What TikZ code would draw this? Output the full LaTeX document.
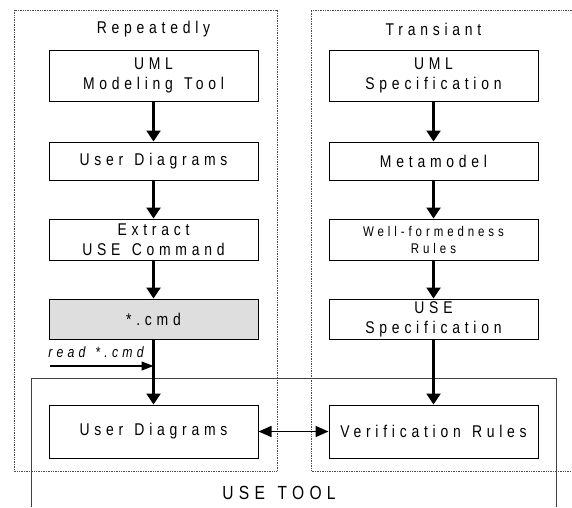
\documentclass[tikz,border=0pt]{standalone}
\usepackage{fontspec}
\usetikzlibrary{arrows.meta}
\newfontfamily\boxfont[FakeStretch=0.82,LetterSpace=28,WordSpace=1.3]{Liberation Sans}

\begin{document}
\begin{tikzpicture}[x=1pt,y=-1pt,
  stage/.style={draw,line width=1pt,minimum width=209pt,inner sep=0pt,align=center,
    font=\boxfont\fontsize{17}{20}\selectfont},
  caption/.style={font=\boxfont\fontsize{17}{20}\selectfont},
  flow/.style={line width=2.4pt,-{Triangle[length=11pt,width=14pt]}},
  both/.style={line width=1.6pt,{Triangle[length=13pt,width=11pt]}-{Triangle[length=13pt,width=11pt]}},
  feed/.style={line width=1.1pt,-{Triangle[length=12pt,width=9pt]}},
  zone/.style={draw=black!70,densely dotted,line width=0.7pt}]
\useasboundingbox (0,0) rectangle (572,507);

% the two phases and the tool
\draw[zone] (14,10) rectangle (277,471);
\draw[zone] (572,10) -- (311,10) -- (311,471) -- (572,471);
\draw[black!75,line width=0.9pt] (31,507) -- (31,378) -- (556,378) -- (556,507);

\node[caption] (rep) at (153.5,29) {Repeatedly};
\node[caption] (tra) at (433.5,29) {Transiant};
\node[caption,font=\boxfont\fontsize{19}{20}\selectfont] (tool) at (279,493) {USE TOOL};

% left column
\node[stage,minimum height=51pt] (uml) at (153.5,75.5) {UML\\Modeling Tool};
\node[stage,minimum height=38pt] (ud) at (153.5,161) {User Diagrams};
\node[stage,minimum height=41pt] (ext) at (153.5,239.5) {Extract\\USE Command};
\node[stage,minimum height=40pt,fill=black!13] (cmd) at (153.5,319) {*.cmd};
\node[stage,minimum height=53pt] (ud2) at (153.5,431.5) {User Diagrams};

% right column
\node[stage,minimum height=51pt] (spec) at (433.5,75.5) {UML\\Specification};
\node[stage,minimum height=38pt] (meta) at (433.5,161) {Metamodel};
\node[stage,minimum height=41pt,font=\boxfont\fontsize{14}{17}\selectfont] (wfr) at (433.5,239.5) {Well-formedness\\Rules};
\node[stage,minimum height=40pt] (use) at (433.5,319) {USE\\Specification};
\node[stage,minimum height=53pt] (ver) at (433.5,431.5) {Verification Rules};

\draw[flow] (uml) -- (ud);
\draw[flow] (ud) -- (ext);
\draw[flow] (ext) -- (cmd);
\draw[flow] (cmd) -- (ud2);
\draw[flow] (spec) -- (meta);
\draw[flow] (meta) -- (wfr);
\draw[flow] (wfr) -- (use);
\draw[flow] (use) -- (ver);
\draw[both] (ud2) -- (ver);

\node[font=\boxfont\itshape\fontsize{15}{16}\selectfont] (rd) at (96,352) {read *.cmd};
\coordinate (rdin) at (50,366);
\draw[feed] (rdin) -- (rdin -| cmd);
\end{tikzpicture}
\end{document}
